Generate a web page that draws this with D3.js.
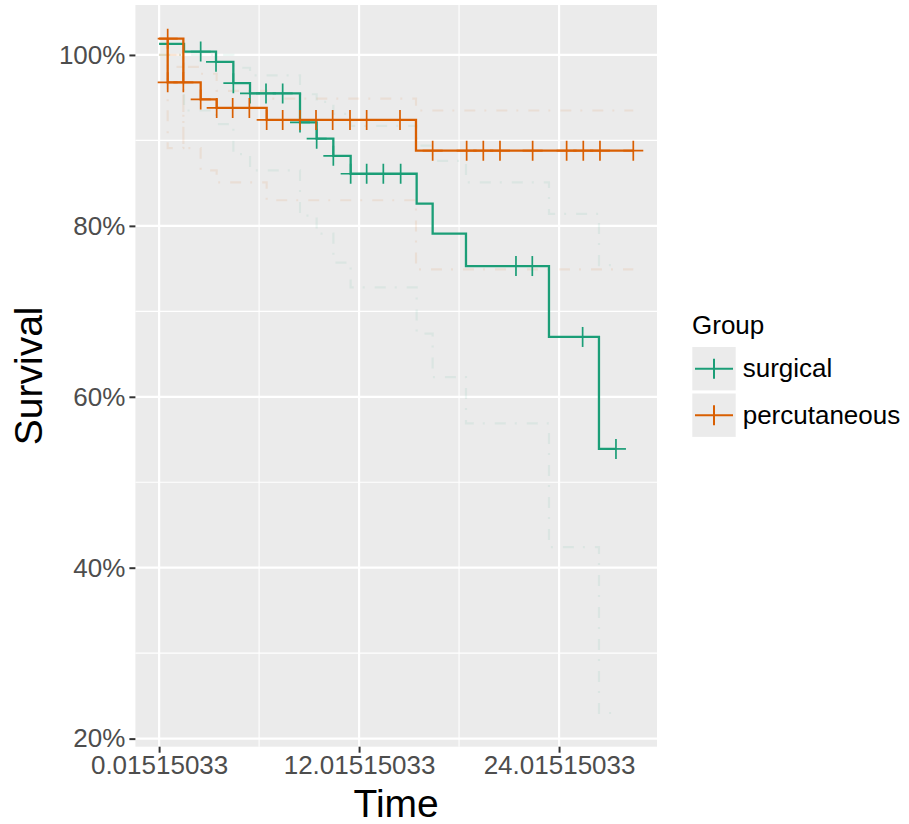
<!DOCTYPE html>
<html>
<head>
<meta charset="utf-8">
<script src="https://cdn.jsdelivr.net/npm/d3@7"></script>
<style>
  html, body { margin: 0; padding: 0; background: #ffffff; }
  svg { display: block; font-family: "Liberation Sans", Arial, Helvetica, sans-serif; }
</style>
</head>
<body>
<svg id="chart" width="909" height="824"></svg>
<script>
// ---------------- DATA ----------------
const groups = ["surgical", "percutaneous"];
const groupColors = ["#1b9e77", "#d95f02"];

// Kaplan-Meier step curves (time in months, survival as fraction), drawn in path order
const surgicalTime = [0.01515033, 1.51, 3.43, 4.47, 5.47, 8.47, 9.47, 10.47, 11.51, 15.47, 16.43, 18.43, 23.41, 26.41, 27.43];
const surgicalSurv = [1.013, 1.004, 0.992, 0.967, 0.955, 0.921, 0.902, 0.882, 0.861, 0.826, 0.791, 0.753, 0.670, 0.539, 0.539];
const surgicalUpper = [1.0, 1.0, 1.0, 0.985, 0.976, 0.954, 0.945, 0.931, 0.917, 0.894, 0.876, 0.851, 0.814, 0.754, 0.754];
const surgicalLower = [1.0, 0.935, 0.919, 0.884, 0.865, 0.812, 0.791, 0.757, 0.728, 0.674, 0.623, 0.569, 0.424, 0.230, 0.230];

const percTime  = [0.01515033, 1.47, 0.53, 1.47, 2.51, 3.47, 6.47, 15.43, 28.47];
const percSurv  = [1.019, 0.968, 1.019, 0.968, 0.948, 0.938, 0.924, 0.888, 0.888];
const percUpper = [1.0, 0.986, 1.0, 0.986, 0.978, 0.958, 0.949, 0.935, 0.935];
const percLower = [1.0, 0.891, 1.0, 0.891, 0.865, 0.851, 0.830, 0.749, 0.749];

// censoring marks
const surgicalCensorTime = [2.51, 3.43, 4.47, 5.47, 6.43, 7.43, 8.47, 9.47, 10.47, 11.51, 12.47, 13.47, 14.51, 21.43, 22.41, 25.43, 27.43];
const surgicalCensorSurv = [1.004, 0.992, 0.967, 0.955, 0.955, 0.955, 0.921, 0.902, 0.882, 0.861, 0.861, 0.861, 0.861, 0.753, 0.753, 0.670, 0.539];
const percCensorTime = [0.53, 0.53, 1.47, 2.51, 3.47, 4.43, 5.43, 6.47, 7.43, 8.47, 9.43, 10.43, 11.47, 12.47, 14.47, 16.43, 18.47, 19.47, 20.47, 22.43, 24.47, 25.47, 26.47, 28.47];
const percCensorSurv = [1.019, 0.968, 0.968, 0.948, 0.938, 0.938, 0.938, 0.924, 0.924, 0.924, 0.924, 0.924, 0.924, 0.924, 0.924, 0.888, 0.888, 0.888, 0.888, 0.888, 0.888, 0.888, 0.888, 0.888];

const yTickValues = [0.2, 0.4, 0.6, 0.8, 1.0];
const yTickLabels = ["20%", "40%", "60%", "80%", "100%"];
const yMinorValues = [0.3, 0.5, 0.7, 0.9];
const xTickValues = [0.01515033, 12.01515033, 24.01515033];
const xTickLabels = ["0.01515033", "12.01515033", "24.01515033"];
const xMinorValues = [6.01515033, 18.01515033];

// ---------------- LAYOUT ----------------
const panel = { left: 135.4, right: 657, top: 5, bottom: 746.7 };
const svg = d3.select("#chart");

const allT = [...surgicalTime, ...percTime, ...surgicalCensorTime, ...percCensorTime];
const allS = [...surgicalSurv, ...percSurv, ...surgicalLower, ...percLower, ...surgicalUpper, ...percUpper];
const tMin = d3.min(allT), tMax = d3.max(allT);
const sMin = d3.min(allS), sMax = d3.max(allS);
const tPad = (tMax - tMin) * 0.05, sPad = (sMax - sMin) * 0.05;

const x = d3.scaleLinear().domain([tMin - tPad, tMax + tPad]).range([panel.left, panel.right]);
const y = d3.scaleLinear().domain([sMin - sPad, sMax + sPad]).range([panel.bottom, panel.top]);

// panel background
svg.append("rect")
  .attr("x", panel.left).attr("y", panel.top)
  .attr("width", panel.right - panel.left).attr("height", panel.bottom - panel.top)
  .attr("fill", "#ebebeb");

const grid = svg.append("g");
grid.selectAll("line.ymin").data(yMinorValues).join("line")
  .attr("x1", panel.left).attr("x2", panel.right)
  .attr("y1", d => y(d)).attr("y2", d => y(d))
  .attr("stroke", "#ffffff").attr("stroke-width", 1.1);
grid.selectAll("line.xmin").data(xMinorValues).join("line")
  .attr("y1", panel.top).attr("y2", panel.bottom)
  .attr("x1", d => x(d)).attr("x2", d => x(d))
  .attr("stroke", "#ffffff").attr("stroke-width", 1.1);
grid.selectAll("line.ymaj").data(yTickValues).join("line")
  .attr("x1", panel.left).attr("x2", panel.right)
  .attr("y1", d => y(d)).attr("y2", d => y(d))
  .attr("stroke", "#ffffff").attr("stroke-width", 2.2);
grid.selectAll("line.xmaj").data(xTickValues).join("line")
  .attr("y1", panel.top).attr("y2", panel.bottom)
  .attr("x1", d => x(d)).attr("x2", d => x(d))
  .attr("stroke", "#ffffff").attr("stroke-width", 2.2);

// clip
svg.append("clipPath").attr("id", "clip").append("rect")
  .attr("x", panel.left).attr("y", panel.top)
  .attr("width", panel.right - panel.left).attr("height", panel.bottom - panel.top);

const plot = svg.append("g").attr("clip-path", "url(#clip)");
const line = d3.line().x(d => x(d[0])).y(d => y(d[1])).curve(d3.curveStepAfter);
const zip = (a, b) => a.map((v, i) => [v, b[i]]);

const series = [
  { t: surgicalTime, s: surgicalSurv, u: surgicalUpper, l: surgicalLower, ct: surgicalCensorTime, cs: surgicalCensorSurv, color: groupColors[0], ciOp: 0.075 },
  { t: percTime, s: percSurv, u: percUpper, l: percLower, ct: percCensorTime, cs: percCensorSurv, color: groupColors[1], ciOp: 0.09 }
];

// confidence bands (faint dot-dash)
series.forEach(sr => {
  [sr.u, sr.l].forEach(arr => {
    plot.append("path")
      .attr("d", line(zip(sr.t, arr)))
      .attr("fill", "none")
      .attr("stroke", sr.color)
      .attr("stroke-opacity", sr.ciOp)
      .attr("stroke-width", 2.2)
      .attr("stroke-dasharray", "11,9,2,10");
  });
});

// main curves
series.forEach(sr => {
  plot.append("path")
    .attr("d", line(zip(sr.t, sr.s)))
    .attr("fill", "none")
    .attr("stroke", sr.color)
    .attr("stroke-width", 2.3);
});

// censor marks
const arm = 10;
series.forEach(sr => {
  const g = plot.append("g").attr("stroke", sr.color).attr("stroke-width", 1.7);
  zip(sr.ct, sr.cs).forEach(([t, s]) => {
    g.append("line").attr("x1", x(t) - arm).attr("x2", x(t) + arm).attr("y1", y(s)).attr("y2", y(s));
    g.append("line").attr("x1", x(t)).attr("x2", x(t)).attr("y1", y(s) - arm).attr("y2", y(s) + arm);
  });
});

// axes
const yAxis = d3.axisLeft(y).tickValues(yTickValues)
  .tickFormat((d, i) => yTickLabels[i]).tickSize(6).tickPadding(4);
const yg = svg.append("g").attr("transform", `translate(${panel.left},0)`).call(yAxis);
yg.select(".domain").remove();
yg.selectAll(".tick line").attr("stroke", "#333333").attr("stroke-width", 2);
yg.selectAll(".tick text").attr("fill", "#4d4d4d").attr("font-size", 26)
  .attr("font-family", "Liberation Sans, Arial, sans-serif");

const xAxis = d3.axisBottom(x).tickValues(xTickValues)
  .tickFormat((d, i) => xTickLabels[i]).tickSize(6).tickPadding(3);
const xg = svg.append("g").attr("transform", `translate(0,${panel.bottom})`).call(xAxis);
xg.select(".domain").remove();
xg.selectAll(".tick line").attr("stroke", "#333333").attr("stroke-width", 2);
xg.selectAll(".tick text").attr("fill", "#4d4d4d").attr("font-size", 26)
  .attr("font-family", "Liberation Sans, Arial, sans-serif");

// axis titles
svg.append("text")
  .attr("x", (panel.left + panel.right) / 2).attr("y", 817)
  .attr("text-anchor", "middle").attr("font-size", 39).attr("fill", "#000")
  .text("Time");
svg.append("text")
  .attr("transform", `translate(42,${(panel.top + panel.bottom) / 2}) rotate(-90)`)
  .attr("text-anchor", "middle").attr("font-size", 39).attr("fill", "#000")
  .text("Survival");

// legend
const lg = svg.append("g");
lg.append("text").attr("x", 692).attr("y", 333.5).attr("font-size", 26).attr("fill", "#000").text("Group");
groups.forEach((name, i) => {
  const ky = 347 + i * 46.5;
  const kg = lg.append("g");
  kg.append("rect").attr("x", 692.3).attr("y", ky).attr("width", 43.4).attr("height", 43.4).attr("fill", "#ebebeb");
  kg.append("line").attr("x1", 695).attr("x2", 733).attr("y1", ky + 21.7).attr("y2", ky + 21.7)
    .attr("stroke", groupColors[i]).attr("stroke-width", 2);
  kg.append("line").attr("x1", 714).attr("x2", 714).attr("y1", ky + 11.7).attr("y2", ky + 31.7)
    .attr("stroke", groupColors[i]).attr("stroke-width", 2);
  kg.append("text").attr("x", 742.7).attr("y", ky + 30.3).attr("font-size", 26).attr("fill", "#000").text(name);
});
</script>
</body>
</html>
